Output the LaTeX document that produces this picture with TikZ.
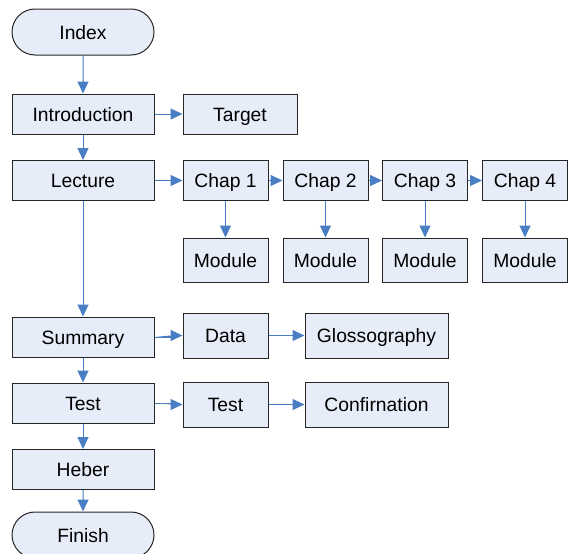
\documentclass[tikz,border=0pt]{standalone}
\usepackage{fontspec}
\setmainfont{Liberation Sans}
\usepackage{tikz}
\usetikzlibrary{
  positioning,
  arrows.meta,
  shapes.misc
}
\definecolor{boxfill}{RGB}{230,236,248}
\definecolor{arrowblue}{RGB}{74,126,194}
\tikzset{
  flowarrow/.style={-{Triangle[length=12pt,width=11pt]},draw=arrowblue,fill=arrowblue,line width=1pt},
  stepbox/.style={rectangle,draw=black!85,fill=boxfill,line width=1pt,minimum height=40pt,align=center,inner sep=0pt,text height=14pt,text depth=0pt},
  terminal/.style={rounded rectangle,draw=black!85,fill=boxfill,line width=1pt,minimum width=142pt,minimum height=46pt,inner sep=0pt,text height=14pt,text depth=0pt}
}

\begin{document}
\begin{tikzpicture}[x=1pt,y=-1pt,font=\fontsize{19.3}{22}\selectfont]
    \useasboundingbox (0,0) rectangle (573,554);
    % main column
    \node[terminal] (index) at (83,32) {Index};
    \node[stepbox,minimum width=142pt] (intro) at (83,114) {Introduction};
    \node[stepbox,minimum width=142pt] (lecture) at (83,180.5) {Lecture};
    \node[stepbox,minimum width=142pt] (summary) at (83,337) {Summary};
    \node[stepbox,minimum width=142pt] (test) at (83,403) {Test};
    \node[stepbox,minimum width=142pt] (heber) at (83,469.5) {Heber};
    \node[terminal] (finish) at (83,535) {Finish};

    % side boxes
    \node[stepbox,minimum width=114pt] (target) at (240,114) {Target};
    \node[stepbox,minimum width=85pt,minimum height=45pt] (data) at (225.5,335.5) {Data};
    \node[stepbox,minimum width=143pt,minimum height=45pt] (gloss) at (376.5,335.5) {Glossography};
    \node[stepbox,minimum width=85pt,minimum height=45pt] (check) at (225.5,404.5) {Test};
    \node[stepbox,minimum width=143pt,minimum height=45pt] (confirm) at (376.5,404.5) {Confirnation};

    \foreach \x/\n in {225.5/1,325.5/2,425/3,525/4} {
        \node[stepbox,minimum width=85pt] (chap\n) at (\x,180.5) {Chap \n};
        \node[stepbox,minimum width=85pt,minimum height=44pt] (mod\n) at (\x,260) {Module};
        \draw[flowarrow] (chap\n) -- (mod\n);
    }

    \draw[flowarrow] (index) -- (intro);
    \draw[flowarrow] (intro) -- (lecture);
    \draw[flowarrow] (lecture) -- (summary);
    \draw[flowarrow] (summary) -- (test);
    \draw[flowarrow] (test) -- (heber);
    \draw[flowarrow] (heber) -- (finish);

    \draw[flowarrow] (intro) -- (target);
    \draw[flowarrow] (lecture) -- (chap1);
    \draw[flowarrow] (chap1) -- (chap2);
    \draw[flowarrow] (chap2) -- (chap3);
    \draw[flowarrow] (chap3) -- (chap4);
    \draw[flowarrow] (summary.east) -- ++(17,0) |- (data.west);
    \draw[flowarrow] (data) -- (gloss);
    \draw[flowarrow] (test.east) -- ++(17,0) |- (check.west);
    \draw[flowarrow] (check) -- (confirm);
\end{tikzpicture}
\end{document}
